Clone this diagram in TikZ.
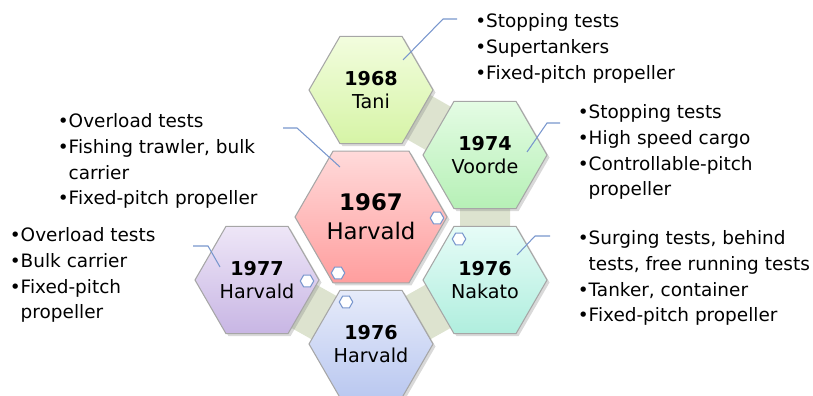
\documentclass[tikz,border=0pt]{standalone}
\usepackage{fontspec}
\setmainfont{DejaVu Sans}
\usetikzlibrary{shapes.geometric,shadows,backgrounds}
\definecolor{redtop}{RGB}{255, 218, 218}
\definecolor{redbot}{RGB}{255, 158, 158}
\definecolor{limetop}{RGB}{242, 253, 222}
\definecolor{limebot}{RGB}{214, 244, 166}
\definecolor{greentop}{RGB}{228, 252, 228}
\definecolor{greenbot}{RGB}{182, 240, 182}
\definecolor{aquatop}{RGB}{230, 252, 247}
\definecolor{aquabot}{RGB}{176, 238, 222}
\definecolor{bluetop}{RGB}{230, 235, 250}
\definecolor{bluebot}{RGB}{186, 200, 240}
\definecolor{lilactop}{RGB}{238, 230, 247}
\definecolor{lilacbot}{RGB}{200, 182, 228}
\definecolor{hexedge}{RGB}{166, 166, 166}
\definecolor{bandgray}{RGB}{221, 227, 207}
\definecolor{calloutblue}{RGB}{120, 150, 205}

\begin{document}
\begin{tikzpicture}[
        hexbig/.style   = {regular polygon, regular polygon sides=6, minimum size=3.04cm, inner sep=0pt,
                           draw=hexedge, line width=0.6pt, align=center, font=\fontsize{13}{16.4}\selectfont,
                           drop shadow={shadow xshift=0.05cm, shadow yshift=-0.05cm, opacity=0.3}},
        hexsmall/.style = {hexbig, minimum size=2.48cm, font=\fontsize{10.9}{13.6}\selectfont},
        marker/.style   = {regular polygon, regular polygon sides=6, minimum size=0.27cm, inner sep=0pt,
                           draw=calloutblue, fill=white, line width=0.6pt},
        callout/.style  = {draw=calloutblue, line width=0.6pt},
        band/.style     = {draw=bandgray, line width=1.0cm},
        notes/.style    = {anchor=north west, inner sep=0pt, align=left, font=\fontsize{10.5}{14.7}\selectfont}]
            \useasboundingbox                                             ( 0.00, 0.00) rectangle (16.26,-7.92);
            \node[hexsmall, top color=limetop,  bottom color=limebot]  (tani)     at ( 7.42,-1.80) {\textbf{1968}\\Tani};
            \node[hexsmall, top color=greentop, bottom color=greenbot] (voorde)   at ( 9.70,-3.10) {\textbf{1974}\\Voorde};
            \node[hexsmall, top color=aquatop,  bottom color=aquabot]  (nakato)   at ( 9.70,-5.60) {\textbf{1976}\\Nakato};
            \node[hexsmall, top color=bluetop,  bottom color=bluebot]  (harvaldb) at ( 7.42,-6.88) {\textbf{1976}\\Harvald};
            \node[hexsmall, top color=lilactop, bottom color=lilacbot] (harvaldl) at ( 5.14,-5.60) {\textbf{1977}\\Harvald};
            \node[hexbig,   top color=redtop,   bottom color=redbot]   (harvaldc) at ( 7.42,-4.34) {\textbf{1967}\\Harvald};
            \begin{scope}[on background layer]
                \draw[band, line join=round] (tani.center) -- (voorde.center) -- (nakato.center)
                                             -- (harvaldb.center) -- (harvaldl.center);
            \end{scope}
            \node[marker] (mkc1) at ( 8.74,-4.36) {};
            \node[marker] (mkc2) at ( 6.76,-5.46) {};
            \node[marker] (mkl)  at ( 6.14,-5.62) {};
            \node[marker] (mkn)  at ( 9.18,-4.78) {};
            \node[marker] (mkb)  at ( 6.92,-6.04) {};
            \node[notes] (ntani)     at ( 9.50,-0.26) {\textbullet Stopping tests\\\textbullet Supertankers\\\textbullet Fixed-pitch propeller};
            \node[notes] (nvoorde)   at (11.55,-2.08) {\textbullet Stopping tests\\\textbullet High speed cargo\\\textbullet Controllable-pitch\\\phantom{\textbullet}propeller};
            \node[notes] (nharvaldc) at ( 1.15,-2.26) {\textbullet Overload tests\\\textbullet Fishing trawler, bulk\\\phantom{\textbullet}carrier\\\textbullet Fixed-pitch propeller};
            \node[notes] (nharvaldl) at ( 0.19,-4.54) {\textbullet Overload tests\\\textbullet Bulk carrier\\\textbullet Fixed-pitch\\\phantom{\textbullet}propeller};
            \node[notes] (nnakato)   at (11.55,-4.60) {\textbullet Surging tests, behind\\\phantom{\textbullet}tests, free running tests\\\textbullet Tanker, container\\\textbullet Fixed-pitch propeller};
            \coordinate (ktani1)     at ( 8.06,-1.20);
            \coordinate (ktani2)     at ( 8.86,-0.38);
            \coordinate (ktani3)     at ( 9.14,-0.38);
            \coordinate (kvoorde1)   at (10.54,-3.04);
            \coordinate (kvoorde2)   at (10.94,-2.46);
            \coordinate (kvoorde3)   at (11.20,-2.46);
            \coordinate (kharvaldc1) at ( 6.80,-3.34);
            \coordinate (kharvaldc2) at ( 5.94,-2.56);
            \coordinate (kharvaldc3) at ( 5.66,-2.56);
            \coordinate (kharvaldl1) at ( 4.40,-5.34);
            \coordinate (kharvaldl2) at ( 4.16,-4.92);
            \coordinate (kharvaldl3) at ( 3.86,-4.92);
            \coordinate (knakato1)   at (10.34,-5.10);
            \coordinate (knakato2)   at (10.70,-4.72);
            \coordinate (knakato3)   at (11.00,-4.72);
            \draw[callout] (ktani1)     -- (ktani2)     -- (ktani3);
            \draw[callout] (kvoorde1)   -- (kvoorde2)   -- (kvoorde3);
            \draw[callout] (kharvaldc1) -- (kharvaldc2) -- (kharvaldc3);
            \draw[callout] (kharvaldl1) -- (kharvaldl2) -- (kharvaldl3);
            \draw[callout] (knakato1)   -- (knakato2)   -- (knakato3);
        \end{tikzpicture}
\end{document}
